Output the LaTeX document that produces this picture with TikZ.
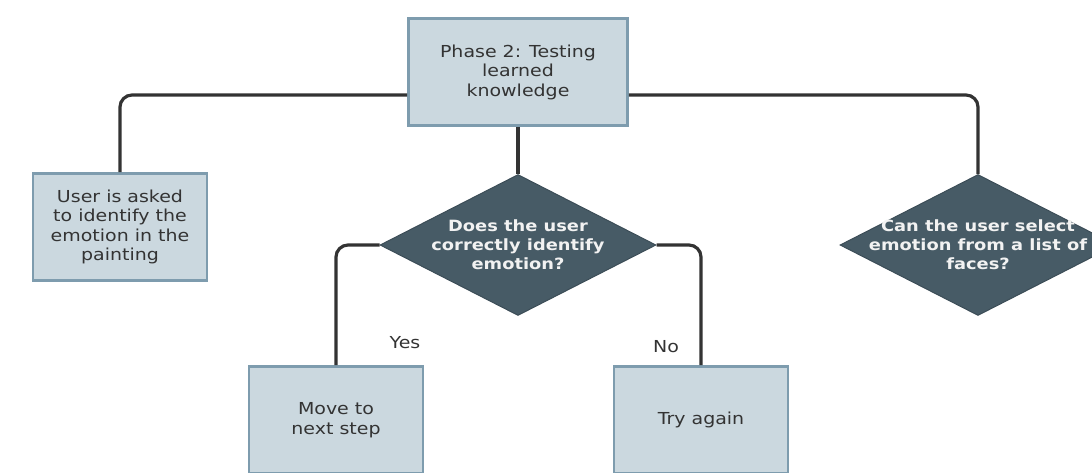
\documentclass[tikz,border=0pt]{standalone}
\usepackage{fontspec}
\setmainfont{DejaVu Sans}[FakeStretch=1.15]
\usepackage{tikz}
\usepackage{xcolor}
\usetikzlibrary{shapes.geometric}

\definecolor{boxfill}{HTML}{CBD8DF}
\definecolor{boxline}{HTML}{7E9CAE}
\definecolor{decfill}{HTML}{475B66}
\definecolor{linkcol}{HTML}{333333}
\definecolor{txtcol}{HTML}{333333}

\tikzset{
  stepbox/.style={draw=boxline, fill=boxfill, line width=2.8pt, minimum width=174pt,
    minimum height=107pt, align=center, text=txtcol, font=\fontsize{16.5}{19.5}\selectfont},
  decision/.style={diamond, draw=decfill!85!black, line width=1pt, fill=decfill,
    minimum width=276pt, minimum height=141pt, inner sep=0pt},
  dectext/.style={text=white!90!gray, align=center, font=\bfseries\fontsize{15.5}{19}\selectfont},
  link/.style={draw=linkcol, line width=3.2pt, rounded corners=12pt},
  answer/.style={text=txtcol, font=\fontsize{16.5}{19.5}\selectfont}
}

\begin{document}
\begin{tikzpicture}[x=1pt,y=-1pt]
  \clip (0,0) rectangle (1092,472);
  \begin{scope}
    % boxes
    \node[stepbox, minimum width=219pt] (phase) at (518,72) {Phase 2: Testing\\learned\\knowledge};
    \node[stepbox] (ask) at (120,227) {User is asked\\to identify the\\emotion in the\\painting};
    \node[stepbox] (move) at (336,420) {Move to\\next step};
    \node[stepbox] (again) at (701,420) {Try again};
    % decisions
    \node[decision, label={[dectext]center:{Does the user\\correctly identify\\emotion?}}] (check) at (518,245) {};
    \node[decision, label={[dectext]center:{Can the user select\\emotion from a list of\\faces?}}] (faces) at (978,245) {};
    % links
    \draw[link] ([yshift=-23pt]phase.west) -| (ask.north);
    \draw[link] ([yshift=-23pt]phase.east) -| (faces.north);
    \draw[link] (phase.south) -- (check.north);
    \draw[link] (check.west) -| (move.north);
    \draw[link] (check.east) -| (again.north);
    \node[answer] (yes) at (405,343) {Yes};
    \node[answer] (no) at (666,347) {No};
  \end{scope}
\end{tikzpicture}
\end{document}
